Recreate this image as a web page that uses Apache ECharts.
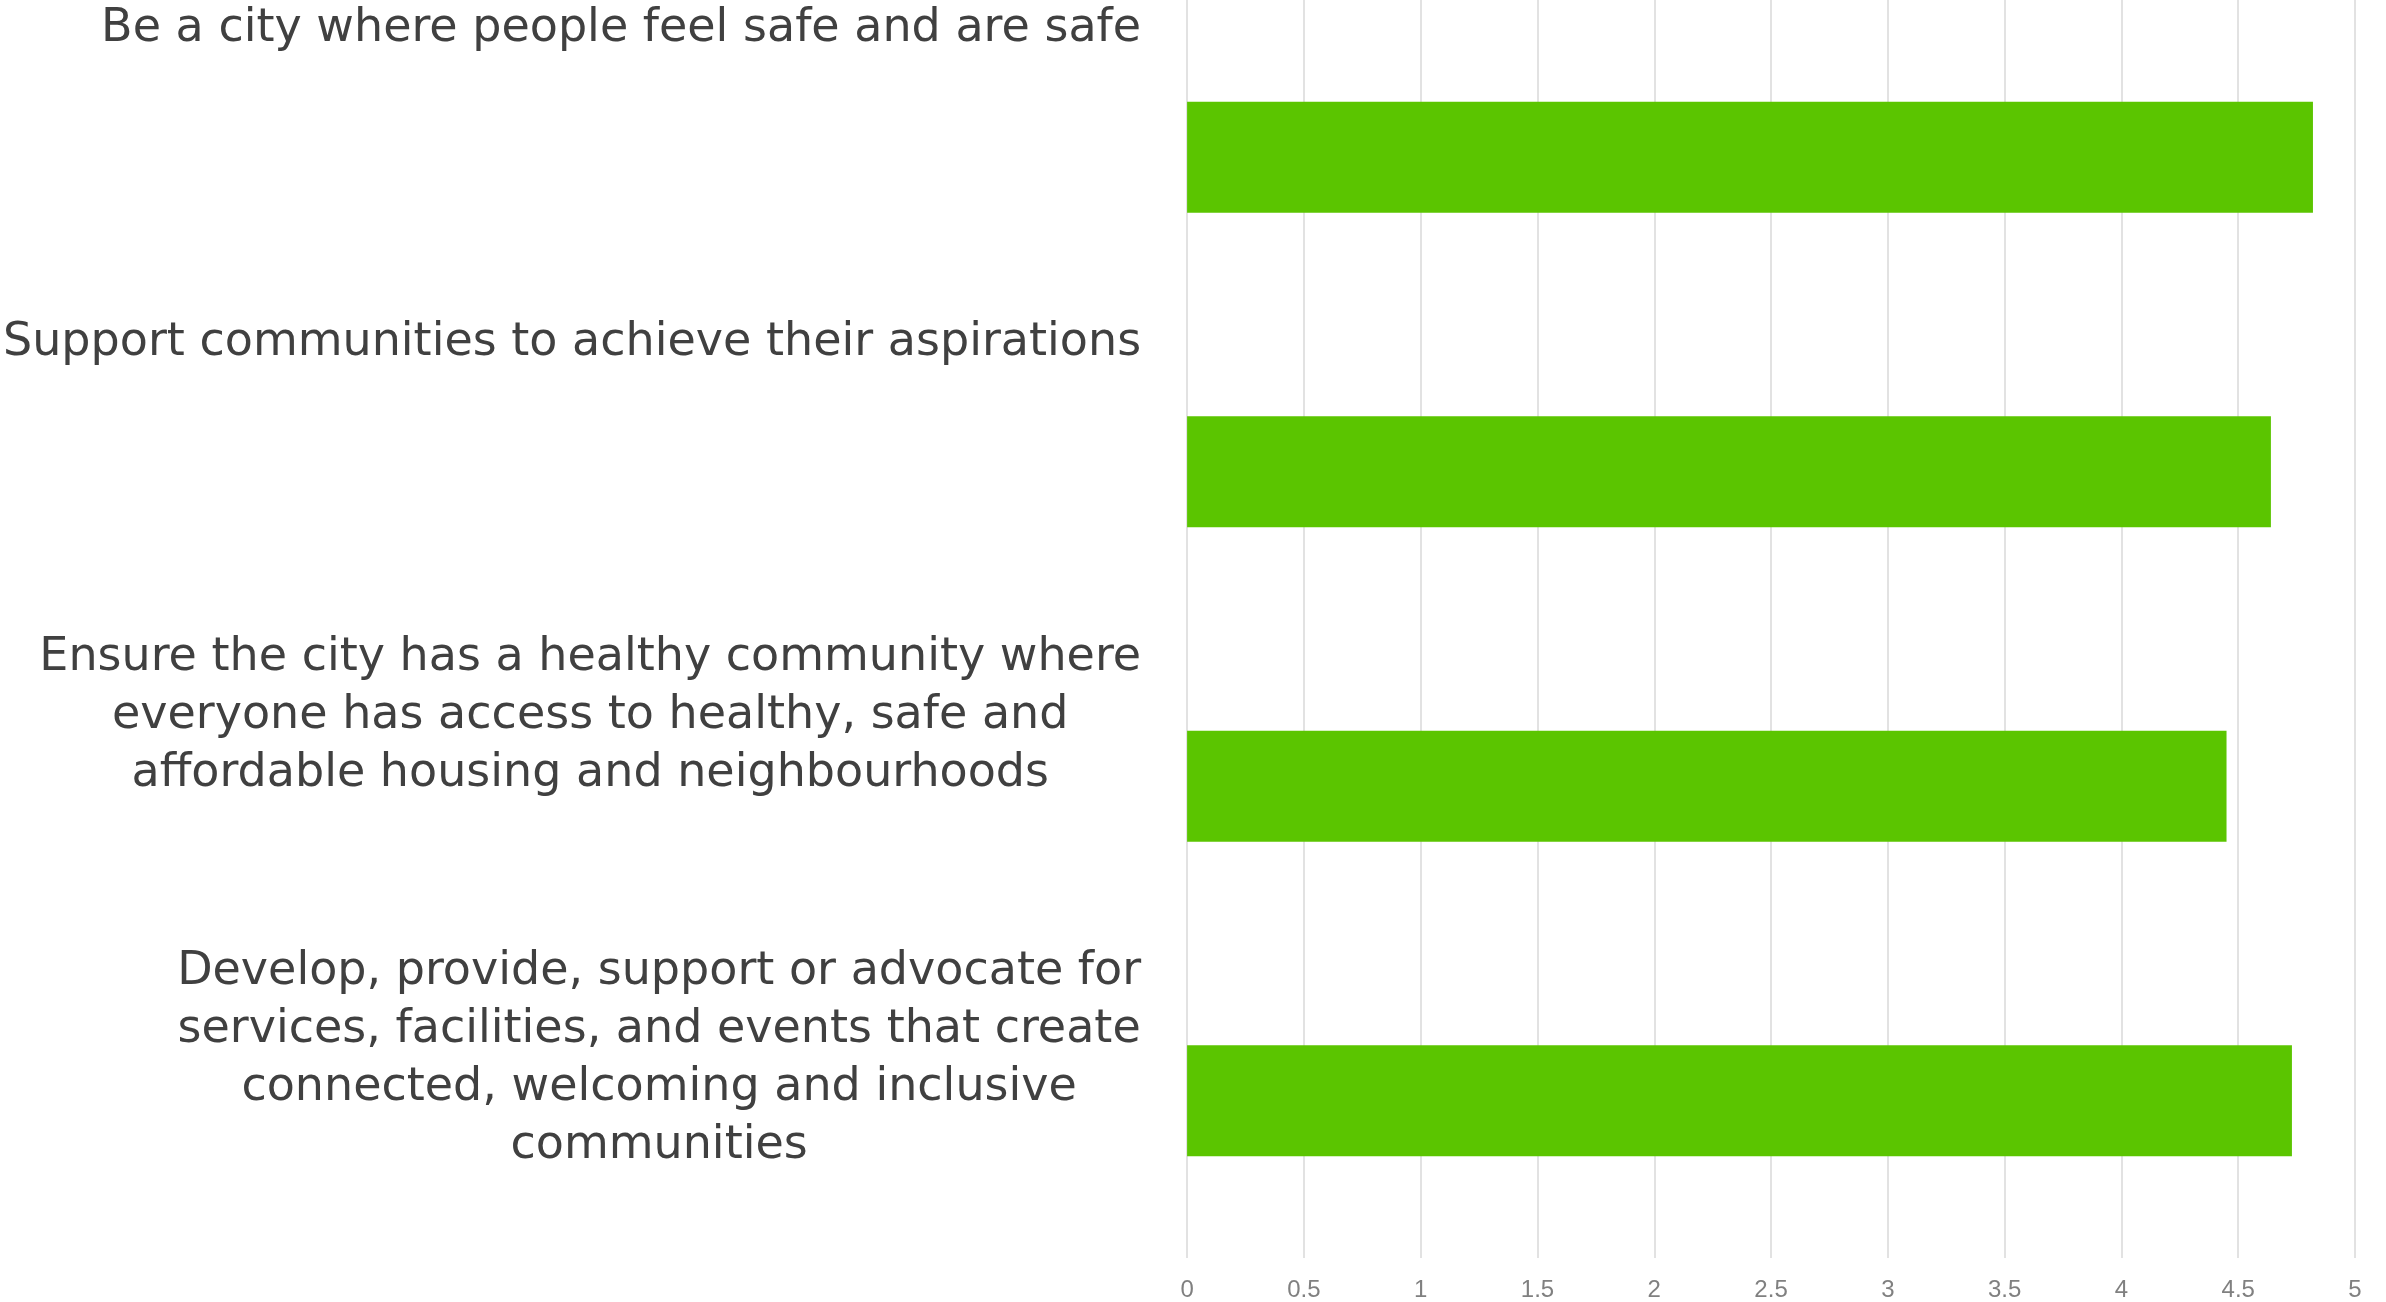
<!DOCTYPE html>
<html>
<head>
<meta charset="utf-8">
<style>
  html, body { margin: 0; padding: 0; background: #ffffff; }
  #chart { width: 2386px; height: 1302px; }
</style>
<script src="https://cdn.jsdelivr.net/npm/echarts@6/dist/echarts.min.js"></script>
</head>
<body>
<div id="chart"></div>
<script>
// Strategic goals, top to bottom
const goals = [
  'Be a city where people feel safe and are safe',
  'Support communities to achieve their aspirations',
  'Ensure the city has a healthy community where\neveryone has access to healthy, safe and\naffordable housing and neighbourhoods',
  'Develop, provide, support or advocate for\nservices, facilities, and events that create\nconnected, welcoming and inclusive\ncommunities'
];
// Average rating per goal
const ratings = [4.82, 4.64, 4.45, 4.73];
// Rating scale ticks
const scaleMin = 0;
const scaleMax = 5;
const scaleStep = 0.5;

const labelFont = 'DejaVu Sans';
const labelSize = 46;
const labelLine = 58;

const chart = echarts.init(document.getElementById('chart'), null, { renderer: 'canvas' });

chart.setOption({
  backgroundColor: '#ffffff',
  animation: false,
  grid: { left: 1187, right: 31, top: -1, bottom: 43, containLabel: false },
  xAxis: {
    type: 'value',
    min: scaleMin,
    max: scaleMax,
    interval: scaleStep,
    axisLine: { show: false },
    axisTick: { show: false },
    splitLine: { show: true, lineStyle: { color: '#d9d9d9', width: 1.5 } },
    axisLabel: {
      margin: 20,
      fontFamily: 'Liberation Sans',
      fontSize: 24,
      color: '#808080'
    }
  },
  yAxis: [
    {
      // bar positions
      type: 'category',
      data: goals,
      inverse: true,
      axisLine: { show: false },
      axisTick: { show: false },
      axisLabel: { show: false },
      splitLine: { show: false }
    },
    {
      // goal text, hung from the top of each band
      type: 'value',
      min: 0,
      max: goals.length,
      interval: 1,
      inverse: true,
      position: 'left',
      axisLine: { show: false },
      axisTick: { show: false },
      splitLine: { show: false },
      axisLabel: {
        margin: 46,
        align: 'right',
        verticalAlign: 'top',
        showMinLabel: true,
        showMaxLabel: true,
        formatter: function (v) {
          const g = goals[Math.round(v)];
          if (!g) return '';
          return g.split('\n').map(function (l) { return '{c|' + l + '}'; }).join('\n');
        },
        rich: {
          c: {
            align: 'center',
            fontFamily: labelFont,
            fontSize: labelSize,
            lineHeight: labelLine,
            color: '#404040'
          }
        }
      }
    }
  ],
  series: [
    {
      type: 'bar',
      yAxisIndex: 0,
      data: ratings,
      barWidth: 111,
      itemStyle: { color: '#5bc500' },
      silent: true
    }
  ]
});
</script>
</body>
</html>
